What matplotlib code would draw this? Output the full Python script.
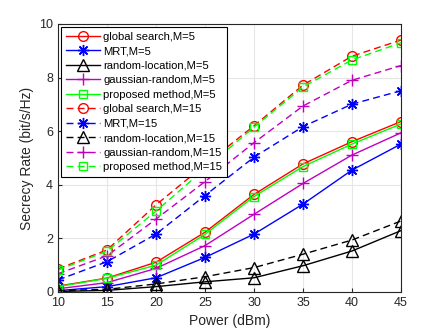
import numpy as np
import matplotlib.pyplot as plt

plt.rcParams['font.family'] = ['Liberation Sans', 'DejaVu Sans']

power = [10, 15, 20, 25, 30, 35, 40, 45]

# M=5
global_5 = [0.22, 0.52, 1.11, 2.23, 3.64, 4.78, 5.61, 6.36]
mrt_5 = [0.05, 0.20, 0.53, 1.29, 2.16, 3.28, 4.55, 5.52]
random_5 = [0.02, 0.06, 0.20, 0.38, 0.53, 0.98, 1.53, 2.29]
gauss_5 = [0.12, 0.35, 0.88, 1.73, 2.90, 4.05, 5.11, 5.94]
proposed_5 = [0.20, 0.51, 1.00, 2.15, 3.56, 4.68, 5.52, 6.27]

# M=15
global_15 = [0.86, 1.57, 3.25, 4.75, 6.20, 7.72, 8.80, 9.40]
mrt_15 = [0.45, 1.13, 2.16, 3.60, 5.03, 6.17, 7.01, 7.51]
random_15 = [0.05, 0.10, 0.30, 0.57, 0.91, 1.41, 1.94, 2.65]
gauss_15 = [0.68, 1.35, 2.72, 4.12, 5.57, 6.94, 7.90, 8.45]
proposed_15 = [0.82, 1.52, 3.02, 4.60, 6.15, 7.65, 8.66, 9.30]

fig = plt.figure(figsize=(4.43, 3.32), dpi=100)
ax = fig.add_axes([58 / 443, 40 / 332, 343 / 443, 268 / 332])

dash = (0, (5, 3))
asterisk = (8, 2, 0)
series = [
    (global_5, 'r', 'o', '-', 'global search,M=5'),
    (mrt_5, 'b', asterisk, '-', 'MRT,M=5'),
    (random_5, 'k', '^', '-', 'random-location,M=5'),
    (gauss_5, 'm', '+', '-', 'gaussian-random,M=5'),
    (proposed_5, '#00ff00', 's', '-', 'proposed method,M=5'),
    (global_15, 'r', 'o', dash, 'global search,M=15'),
    (mrt_15, 'b', asterisk, dash, 'MRT,M=15'),
    (random_15, 'k', '^', dash, 'random-location,M=15'),
    (gauss_15, 'm', '+', dash, 'gaussian-random,M=15'),
    (proposed_15, '#00ff00', 's', dash, 'proposed method,M=15'),
]
sizes = {'o': 7, '^': 8, '+': 9, 's': 6}
for vals, c, m, ls, lab in series:
    size = sizes.get(m, 8) if isinstance(m, str) else 8
    ax.plot(power, vals, color=c, marker=m, linestyle=ls, lw=1,
            markersize=size, markerfacecolor='none', markeredgewidth=1,
            label=lab)

ax.set_xlim(10, 45)
ax.set_ylim(0, 10)
ax.set_xticks(power)
ax.set_yticks([0, 2, 4, 6, 8, 10])
ax.grid(True, color='#e6e6e6', lw=0.8)
ax.set_axisbelow(True)
ax.tick_params(direction='in', labelsize=9, length=3, colors='#262626')
for s in ax.spines.values():
    s.set_color('#262626')
    s.set_linewidth(0.8)
ax.set_xlabel('Power (dBm)', fontsize=10, color='#262626')
ax.set_ylabel('Secrecy Rate (bit/s/Hz)', fontsize=10, color='#262626')

leg = ax.legend(loc='upper left', fontsize=8.1, handlelength=3,
                labelspacing=0.4, borderpad=0.4, borderaxespad=0.3,
                fancybox=False, framealpha=1, handletextpad=0.3)
leg.get_frame().set_edgecolor('black')
leg.get_frame().set_linewidth(0.8)

plt.savefig('out.png', dpi=100)
